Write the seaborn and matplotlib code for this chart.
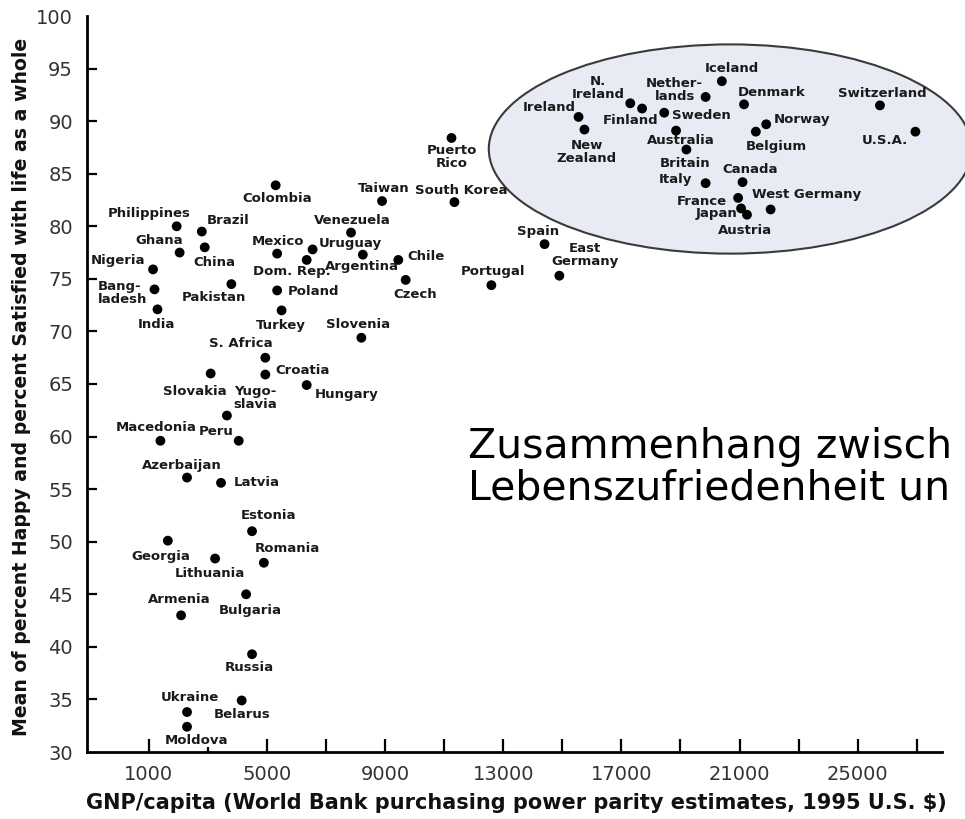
import matplotlib
matplotlib.use("Agg")
import matplotlib.pyplot as plt
import seaborn as sns
import pandas as pd
from matplotlib.patches import Ellipse

# ---------------- data ----------------
countries = [
    "Colombia", "Taiwan", "Philippines", "Brazil", "Ghana", "China", "Venezuela",
    "Mexico", "Uruguay", "Dom. Rep.", "Argentina", "Chile", "Czech", "Nigeria",
    "Bang-\nladesh", "Pakistan", "Poland", "India", "Turkey", "Slovenia", "S. Africa",
    "Puerto\nRico", "South Korea", "Spain", "East\nGermany", "Portugal",
    "Iceland", "Nether-\nlands", "N.\nIreland", "Finland", "Sweden", "Denmark",
    "Switzerland", "Ireland", "New\nZealand", "Australia", "Norway", "Belgium",
    "U.S.A.", "Britain", "Italy", "Canada", "France", "Japan", "Austria",
    "West Germany", "Croatia", "Slovakia", "Hungary", "Yugo-\nslavia", "Macedonia",
    "Peru", "Azerbaijan", "Latvia", "Estonia", "Georgia", "Lithuania", "Romania",
    "Bulgaria", "Armenia", "Russia", "Belarus", "Ukraine", "Moldova",
]
gnp = [
    5300, 8900, 1950, 2800, 2050, 2900, 7850,
    5350, 6550, 6350, 8250, 9450, 9700, 1150,
    1200, 3800, 5350, 1300, 5500, 8200, 4950,
    11250, 11350, 14400, 14900, 12600,
    20400, 19850, 17300, 17700, 18450, 21150,
    25750, 15550, 15750, 18850, 21900, 21550,
    26950, 19200, 19850, 21100, 20950, 21050, 21250,
    22050, 4950, 3100, 6350, 3650, 1400,
    4050, 2300, 3450, 4500, 1650, 3250, 4900,
    4300, 2100, 4500, 4150, 2300, 2300,
]
happy = [
    83.9, 82.4, 80.0, 79.5, 77.5, 78.0, 79.4,
    77.4, 77.8, 76.8, 77.3, 76.8, 74.9, 75.9,
    74.0, 74.5, 73.9, 72.1, 72.0, 69.4, 67.5,
    88.4, 82.3, 78.3, 75.3, 74.4,
    93.8, 92.3, 91.7, 91.2, 90.8, 91.6,
    91.5, 90.4, 89.2, 89.1, 89.7, 89.0,
    89.0, 87.3, 84.1, 84.2, 82.7, 81.7, 81.1,
    81.6, 65.9, 66.0, 64.9, 62.0, 59.6,
    59.6, 56.1, 55.6, 51.0, 50.1, 48.4, 48.0,
    45.0, 43.0, 39.3, 34.9, 33.8, 32.4,
]
y_ticks = [30, 35, 40, 45, 50, 55, 60, 65, 70, 75, 80, 85, 90, 95, 100]
x_major = [1000, 5000, 7000, 9000, 11000, 13000, 15000, 17000, 19000,
           21000, 23000, 25000, 27000]
x_labels = ["1000", "5000", "", "9000", "", "13000", "", "17000", "",
            "21000", "", "25000", ""]
x_minor = [3000]

x_title = "GNP/capita (World Bank purchasing power parity estimates, 1995 U.S. $)"
y_title = "Mean of percent Happy and percent Satisfied with life as a whole"
overlay_1 = "Zusammenhang zwisch"
overlay_2 = "Lebenszufriedenheit un"

# ---------------- label layout (pixel offsets from dot) ----------------
label_pos = {
    "Colombia": (2, -13, "center"), "Taiwan": (2, 13, "center"),
    "Philippines": (-27, 13, "center"), "Brazil": (5, 11, "left"),
    "Ghana": (-20, 12, "center"), "China": (10, -15, "center"),
    "Venezuela": (1, 12, "center"), "Mexico": (1, 12, "center"),
    "Uruguay": (6, 6, "left"), "Dom. Rep.": (-15, -12, "center"),
    "Argentina": (-1, -12, "center"), "Chile": (9, 3, "left"),
    "Czech": (10, -15, "center"), "Nigeria": (-8, 9, "right"),
    "Bang-\nladesh": (-57, -4, "left"), "Pakistan": (-17, -13, "center"),
    "Poland": (11, -1, "left"), "India": (-1, -15, "center"),
    "Turkey": (-1, -15, "center"), "Slovenia": (-3, 13, "center"),
    "S. Africa": (-25, 14, "center"), "Puerto\nRico": (0, -19, "center"),
    "South Korea": (7, 12, "center"), "Spain": (-7, 13, "center"),
    "East\nGermany": (26, 21, "center"), "Portugal": (2, 14, "center"),
    "Iceland": (10, 13, "center"), "Nether-\nlands": (-31, 7, "center"),
    "N.\nIreland": (-32, 15, "center"), "Finland": (-12, -12, "center"),
    "Sweden": (8, -3, "left"), "Denmark": (28, 12, "center"),
    "Switzerland": (2, 12, "center"), "Ireland": (-29, 9, "center"),
    "New\nZealand": (2, -22, "center"), "Australia": (5, -10, "center"),
    "Norway": (8, 5, "left"), "Belgium": (20, -15, "center"),
    "U.S.A.": (-7, -9, "right"), "Britain": (-1, -14, "center"),
    "Italy": (-13, 4, "right"), "Canada": (8, 13, "center"),
    "France": (-11, -4, "right"), "Japan": (-4, -5, "right"),
    "Austria": (-2, -16, "center"), "West Germany": (36, 15, "center"),
    "Croatia": (10, 4, "left"), "Slovakia": (-16, -18, "center"),
    "Yugo-\nslavia": (28, 18, "center"), "Hungary": (40, -9, "center"),
    "Macedonia": (-4, 13, "center"), "Peru": (-5, 9, "right"),
    "Azerbaijan": (-5, 12, "center"), "Latvia": (13, 0, "left"),
    "Estonia": (16, 16, "center"), "Georgia": (-7, -16, "center"),
    "Lithuania": (-5, -15, "center"), "Romania": (24, 14, "center"),
    "Bulgaria": (4, -16, "center"), "Armenia": (-2, 16, "center"),
    "Russia": (-3, -13, "center"), "Belarus": (0, -14, "center"),
    "Ukraine": (3, 15, "center"), "Moldova": (9, -14, "center"),
}

# ---------------- figure ----------------
sns.set_style("ticks")
plt.rcParams["font.family"] = ["DejaVu Sans"]

W, H = 965, 819
fig = plt.figure(figsize=(W / 100, H / 100), dpi=100)
fig.patch.set_facecolor("white")
ax = fig.add_axes([87 / W, 67 / H, (942 - 87) / W, (752 - 16) / H])
ax.set_facecolor("white")

ax.add_patch(Ellipse((20685, 87.35), 16345, 19.9, facecolor="#e8eaf4",
                     edgecolor="#3a3a3a", linewidth=1.5, zorder=1, clip_on=False))

df = pd.DataFrame({"country": countries, "gnp": gnp, "happy": happy})
sns.scatterplot(data=df, x="gnp", y="happy", color="black", s=50,
                edgecolor="none", linewidth=0, ax=ax, zorder=3, legend=False)

for name, xv, yv in zip(countries, gnp, happy):
    dx, dy, ha = label_pos[name]
    ax.annotate(name, (xv, yv), xytext=(dx, dy), textcoords="offset pixels",
                ha=ha, va="center", multialignment="left" if ha == "left" else "center",
                fontsize=9.5, fontweight="bold", color="#1a1a1a", zorder=4,
                linespacing=1.0)

ax.set_xlim(-1085, 27850)
ax.set_ylim(30, 100)
ax.set_xticks(x_major)
ax.set_xticklabels(x_labels)
ax.set_xticks(x_minor, minor=True)
ax.set_yticks(y_ticks)
ax.set_yticklabels([str(v) for v in y_ticks])
ax.set_xlabel("")
ax.set_ylabel("")

ax.tick_params(axis="x", which="major", direction="in", length=9.5, width=1.6,
               pad=9, labelsize=14, labelcolor="#333333", color="black", bottom=True)
ax.tick_params(axis="x", which="minor", direction="in", length=3.6, width=1.6,
               color="black", bottom=True)
ax.tick_params(axis="y", which="major", direction="in", length=7.5, width=1.6,
               pad=10, labelsize=14, labelcolor="#333333", color="black", left=True)
yt = ax.yaxis.get_major_ticks()
yt[0].tick1line.set_visible(False)
yt[-1].tick1line.set_visible(False)

for side in ["top", "right"]:
    ax.spines[side].set_visible(False)
for side in ["left", "bottom"]:
    ax.spines[side].set_color("black")
    ax.spines[side].set_linewidth(2.0)

fig.text(22 / W, 1 - 387 / H, y_title, rotation=90, ha="center", va="center",
         fontsize=13.6, fontweight="bold", color="#111111")
fig.text(516 / W, 1 - 803 / H, x_title, ha="center", va="center",
         fontsize=15, fontweight="bold", color="#111111")

fig.text(468 / W, 1 - 447 / H, overlay_1, ha="left", va="center",
         fontsize=29.5, color="black")
fig.text(468 / W, 1 - 489 / H, overlay_2, ha="left", va="center",
         fontsize=29.5, color="black")

fig.savefig("out.png", dpi=100, facecolor="white")
